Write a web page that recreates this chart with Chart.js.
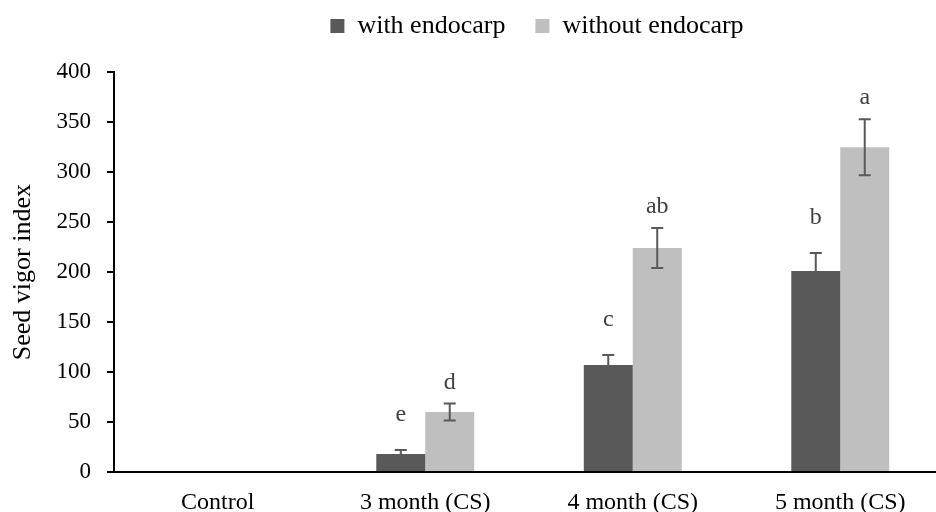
<!DOCTYPE html>
<html>
<head>
<meta charset="utf-8">
<script src="https://cdn.jsdelivr.net/npm/chart.js@4.4.0/dist/chart.umd.min.js"></script>
<style>
    html, body { margin: 0; padding: 0; background: #fff; overflow: hidden; }
    #wrap { width: 960px; height: 512px; }
</style>
</head>
<body>
<div id="wrap"><canvas id="vigorChart" width="960" height="512"></canvas></div>
<script>
const months = ['Control', '3 month (CS)', '4 month (CS)', '5 month (CS)']
const withEndocarp = [0, 18, 107, 201]
const withEndocarpErr = [0, 4, 10, 18]
const withEndocarpLetters = ['', 'e', 'c', 'b']
const withoutEndocarp = [0, 60, 224, 325]
const withoutEndocarpErr = [0, 8.5, 20, 28]
const withoutEndocarpLetters = ['', 'd', 'ab', 'a']
const yTicks = [0, 50, 100, 150, 200, 250, 300, 350, 400]

const serif = '"Liberation Serif", "Times New Roman", serif'

// draws the error bars and the significance letters on top of the bars
const errorBarPlugin = {
    id: 'errorBars',
    afterLayout: function (chart) {
        // legend sits a little right of the plot centre in the original
        chart.legend.left += 8
        chart.legend.right += 8
    },
    afterDatasetsDraw: function (chart) {
        const ctx = chart.ctx
        const y = chart.scales.y
        chart.data.datasets.forEach(function (ds, i) {
            const meta = chart.getDatasetMeta(i)
            meta.data.forEach(function (bar, j) {
                const v = ds.data[j]
                const e = ds.errors[j]
                const top = y.getPixelForValue(v + e)
                const bottom = y.getPixelForValue(v - e)
                ctx.save()
                if (e > 0) {
                    ctx.strokeStyle = '#595959'
                    ctx.lineWidth = 2
                    ctx.beginPath()
                    ctx.moveTo(bar.x, top)
                    ctx.lineTo(bar.x, bottom)
                    ctx.moveTo(bar.x - 6, top)
                    ctx.lineTo(bar.x + 6, top)
                    ctx.moveTo(bar.x - 6, bottom)
                    ctx.lineTo(bar.x + 6, bottom)
                    ctx.stroke()
                }
                if (ds.letters[j]) {
                    ctx.fillStyle = '#404040'
                    ctx.font = '24px ' + serif
                    ctx.textAlign = 'center'
                    ctx.textBaseline = 'alphabetic'
                    ctx.fillText(ds.letters[j], bar.x, top - ds.letterGap)
                }
                ctx.restore()
            })
        })
    }
}

new Chart(document.querySelector('#vigorChart'), {
    type: 'bar',
    data: {
        labels: months,
        datasets: [{
            label: 'with endocarp',
            data: withEndocarp,
            errors: withEndocarpErr,
            letters: withEndocarpLetters,
            letterGap: 29,
            backgroundColor: '#595959',
            categoryPercentage: 0.472,
            barPercentage: 1
        }, {
            label: 'without endocarp',
            data: withoutEndocarp,
            errors: withoutEndocarpErr,
            letters: withoutEndocarpLetters,
            letterGap: 15,
            backgroundColor: '#bfbfbf',
            categoryPercentage: 0.472,
            barPercentage: 1
        }]
    },
    options: {
        responsive: false,
        animation: false,
        layout: {
            padding: { top: -17, left: 0, right: 16, bottom: 0 }
        },
        plugins: {
            tooltip: { enabled: false },
            legend: {
                position: 'top',
                fullSize: false,
                weight: 3000,
                labels: {
                    color: '#000',
                    font: { family: serif, size: 26 },
                    boxWidth: 14,
                    boxHeight: 14,
                    padding: 30
                }
            },
            // empty title used only as a spacer between legend and plot
            title: {
                display: true,
                text: '',
                font: { size: 1 },
                padding: { top: 0, bottom: 22 }
            }
        },
        scales: {
            x: {
                afterFit: function (axis) { axis.height = 40 },
                grid: { display: false },
                border: { display: true, color: '#000', width: 2 },
                ticks: {
                    color: '#000',
                    font: { family: serif, size: 24 },
                    padding: 8
                }
            },
            y: {
                min: 0,
                max: 400,
                afterFit: function (axis) { axis.width = 114 },
                afterBuildTicks: function (axis) {
                    axis.ticks = yTicks.map(function (v) { return { value: v } })
                },
                grid: {
                    drawOnChartArea: false,
                    drawTicks: true,
                    tickLength: 7,
                    color: '#000',
                    lineWidth: 2
                },
                border: { display: true, color: '#000', width: 2 },
                ticks: {
                    color: '#000',
                    font: { family: serif, size: 23 },
                    padding: 16
                },
                title: {
                    display: true,
                    text: 'Seed vigor index',
                    color: '#000',
                    font: { family: serif, size: 26 },
                    padding: { top: 8, bottom: 20 }
                }
            }
        }
    },
    plugins: [errorBarPlugin]
});
</script>
</body>
</html>
